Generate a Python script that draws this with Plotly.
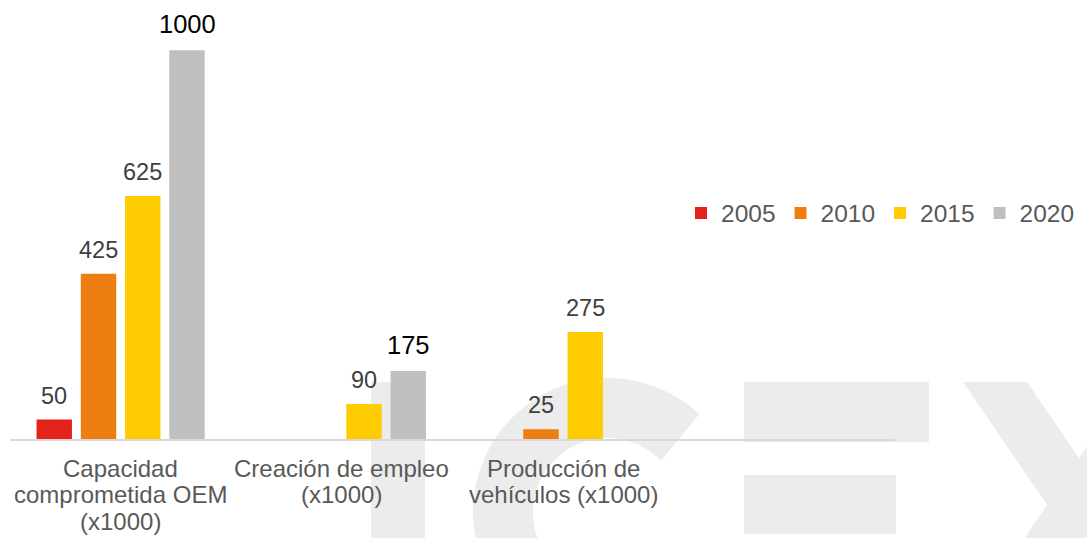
import math
import plotly.graph_objects as go

# ---------------- data ----------------
categories = [
    "Capacidad<br>comprometida OEM<br>(x1000)",
    "Creación de empleo<br>(x1000)",
    "Producción de<br>vehículos (x1000)",
]
series_names = ["2005", "2010", "2015", "2020"]
values_2005 = [50, None, None]
values_2010 = [425, None, 25]
values_2015 = [625, 90, 275]
values_2020 = [1000, 175, None]
series_values = [values_2005, values_2010, values_2015, values_2020]

# ---------------- style ----------------
colors = ["#e2231a", "#ee7d12", "#fecc00", "#c0bfc0"]
label_gray = "#404040"
label_dark = "#000000"
dark_labels = {("2020", 0), ("2020", 1)}   # labels shown in black, slightly larger
axis_text = "#595959"
FONT = "Liberation Sans, Arial, sans-serif"
BARGAP = 0.2
BARGROUPGAP = 0.2
CAT_FIRST_LINE = 29     # px below the axis to the centre of the first label line
CAT_LINE_STEP = 26.5    # px between label lines

W_FIG, H_FIG = 1087, 538
ML, MR, MT, MB = 10, 192, 20, 99
PW = W_FIG - ML - MR
PH = H_FIG - MT - MB

fig = go.Figure()
for name, vals, col in zip(series_names, series_values, colors):
    fig.add_trace(go.Bar(name=name, x=categories, y=vals, marker=dict(color=col, line=dict(width=0)),
                         hoverinfo="skip"))

# data labels (annotations placed at bar centres computed from the group layout)
slot = (1 - BARGAP) / len(series_names)
annotations = []
for k, (name, vals) in enumerate(zip(series_names, series_values)):
    for ci, v in enumerate(vals):
        if v is None:
            continue
        dark = (name, ci) in dark_labels
        annotations.append(dict(
            x=ci + (k - (len(series_names) - 1) / 2) * slot, y=v, xref="x", yref="y",
            text=str(v), showarrow=False, yanchor="bottom", yshift=9 if not dark else 10,
            font=dict(family=FONT, size=25.5 if dark else 23.5,
                      color=label_dark if dark else label_gray),
        ))

# category labels (one annotation per line, for Office-like tight line spacing)
for ci, cat in enumerate(categories):
    for j, line in enumerate(cat.split("<br>")):
        annotations.append(dict(
            x=ci, y=0, xref="x", yref="y", text=line, showarrow=False,
            yanchor="middle", yshift=-(CAT_FIRST_LINE + j * CAT_LINE_STEP),
            font=dict(family=FONT, size=24, color=axis_text),
        ))

# ---------------- watermark (decorative background logo) ----------------
def px(x):
    return (x - ML) / PW

def py(y):
    return (MT + PH - y) / PH

wm = "#ececec"
shapes = []
def rect(x0, y0, x1, y1):
    shapes.append(dict(type="rect", xref="paper", yref="paper", x0=px(x0), x1=px(x1),
                       y0=py(y1), y1=py(y0), fillcolor=wm, line=dict(width=0), layer="below"))

def poly(pts):
    d = "M " + " L ".join(f"{px(a):.5f},{py(b):.5f}" for a, b in pts) + " Z"
    shapes.append(dict(type="path", xref="paper", yref="paper", path=d, fillcolor=wm,
                       line=dict(width=0), layer="below"))

# I
rect(371, 382, 425, 720)
# C
cx, cy, ro, ri = 607.5, 512.5, 134.5, 74.5
outer = [(cx + ro * math.cos(math.radians(a)), cy - ro * math.sin(math.radians(a)))
         for a in [47 + i * 2 for i in range(0, 134)]]
inner = [(cx + ri * math.cos(math.radians(a)), cy - ri * math.sin(math.radians(a)))
         for a in [316 - i * 2 for i in range(0, 137)]]
poly(outer + inner)
# E
rect(744, 382, 929, 442)
rect(744, 475, 896, 534)
rect(744, 567, 929, 627)
# X
s = 0.683
poly([(963, 382), (1027, 382), (1027 + s * 340, 722), (963 + s * 340, 722)])
poly([(1131, 382), (1195, 382), (1195 - s * 340, 722), (1131 - s * 340, 722)])

fig.update_layout(
    width=W_FIG, height=H_FIG,
    margin=dict(l=ML, r=MR, t=MT, b=MB, pad=0, autoexpand=False),
    paper_bgcolor="white", plot_bgcolor="rgba(0,0,0,0)",
    barmode="group", bargap=BARGAP, bargroupgap=BARGROUPGAP,
    font=dict(family=FONT, color=axis_text, size=24),
    showlegend=True,
    legend=dict(orientation="h", x=px(681), xanchor="left", y=py(213), yanchor="middle",
                font=dict(family=FONT, size=24.5, color=axis_text), traceorder="normal",
                bgcolor="rgba(0,0,0,0)", borderwidth=0),
    xaxis=dict(range=[-0.5, 3.5], showline=True, linecolor="#d9d9d9", linewidth=1.5,
               showgrid=False, zeroline=False, ticks="", showticklabels=False, automargin=False,
               fixedrange=True),
    yaxis=dict(range=[0, 1078], visible=False, showgrid=False, zeroline=False, automargin=False,
               fixedrange=True),
    annotations=annotations,
    shapes=shapes,
)

fig.write_html("out.html", config={"displayModeBar": False},
               post_script="document.body.style.margin='0px';")
